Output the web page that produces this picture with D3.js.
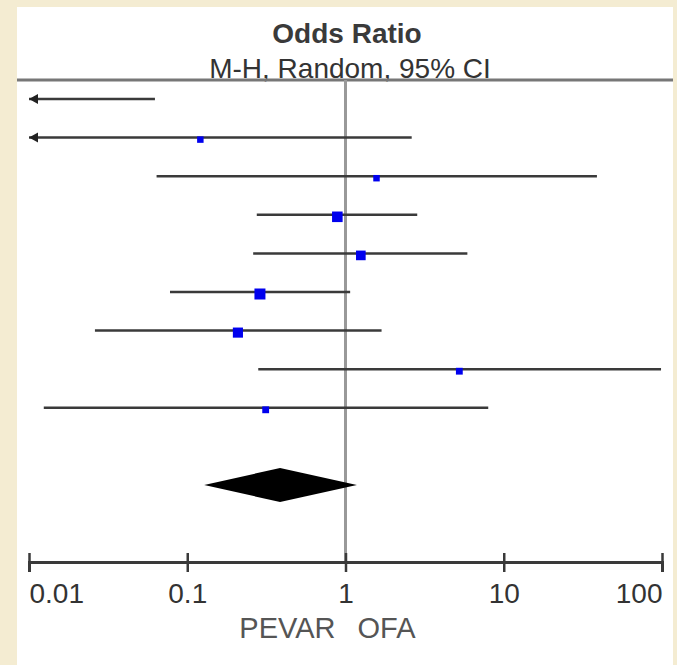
<!DOCTYPE html>
<html>
<head>
<meta charset="utf-8">
<script src="https://cdn.jsdelivr.net/npm/d3@7"></script>
<style>
  html, body { margin: 0; padding: 0; background: #f4ecd2; }
  svg { display: block; }
</style>
</head>
<body>
<svg id="chart" width="677" height="665"></svg>
<script>
// odds ratios (log scale)
const studyIndex = [0, 1, 2, 3, 4, 5, 6, 7, 8];
const orPoint = [0.004, 0.121, 1.57, 0.888, 1.25, 0.288, 0.209, 5.24, 0.313];
const orLower = [0.0005, 0.002, 0.064, 0.275, 0.261, 0.0778, 0.0261, 0.281, 0.0124];
const orUpper = [0.0625, 2.62, 38.8, 2.84, 5.89, 1.07, 1.69, 98.6, 7.98];
const weights = [3, 4.5, 4.5, 12, 10, 13, 11, 5, 5];

const pooledIndex = 10;
const pooledPoint = 0.386;
const pooledLower = 0.128;
const pooledUpper = 1.18;

const tickValues = [0.01, 0.1, 1, 10, 100];
const tickLabels = ["0.01", "0.1", "1", "10", "100"];
const titleText = "Odds Ratio";
const subtitleText = "M-H, Random, 95% CI";
const leftLabel = "PEVAR";
const rightLabel = "OFA";

const svg = d3.select("#chart");
const font = "'Liberation Sans', Arial, Helvetica, sans-serif";

// white panel
svg.append("rect")
  .attr("x", 17).attr("y", 7)
  .attr("width", 656).attr("height", 658)
  .attr("fill", "#fff");

const x = d3.scaleLog().domain([0.01, 100]).range([29, 662]);
const y = d3.scaleLinear().domain([0, 10]).range([99, 485]);
const size = d3.scaleSqrt().domain([0, d3.max(weights)]).range([0, 11]);
const axisY = 562;

// header
svg.append("text")
  .attr("x", 347).attr("y", 43)
  .attr("text-anchor", "middle")
  .attr("font-family", font).attr("font-size", 28).attr("font-weight", "bold")
  .attr("fill", "#3a3a3a")
  .text(titleText);
svg.append("text")
  .attr("x", 350).attr("y", 78)
  .attr("text-anchor", "middle")
  .attr("font-family", font).attr("font-size", 28)
  .attr("fill", "#333")
  .text(subtitleText);
svg.append("line")
  .attr("x1", 17).attr("x2", 673)
  .attr("y1", 80).attr("y2", 80)
  .attr("stroke", "#777").attr("stroke-width", 3);

// line of no effect
svg.append("line")
  .attr("x1", x(1)).attr("x2", x(1))
  .attr("y1", 80).attr("y2", axisY)
  .attr("stroke", "#999").attr("stroke-width", 3);

// confidence intervals
const [dMin, dMax] = x.domain();
const rows = svg.append("g");
studyIndex.forEach(i => {
  const lo = Math.max(orLower[i], dMin);
  const hi = Math.min(orUpper[i], dMax);
  const yy = y(i);
  rows.append("line")
    .attr("x1", x(lo)).attr("x2", x(hi))
    .attr("y1", yy).attr("y2", yy)
    .attr("stroke", "#3a3a3a").attr("stroke-width", 2.5);
  if (orLower[i] < dMin) {
    const ax = x(dMin);
    rows.append("path")
      .attr("d", `M${ax},${yy} L${ax + 9},${yy - 5} L${ax + 9},${yy + 5} Z`)
      .attr("fill", "#222");
  }
  if (orUpper[i] > dMax) {
    const ax = x(dMax);
    rows.append("path")
      .attr("d", `M${ax},${yy} L${ax - 9},${yy - 5} L${ax - 9},${yy + 5} Z`)
      .attr("fill", "#222");
  }
  if (orPoint[i] >= dMin && orPoint[i] <= dMax) {
    const s = size(weights[i]);
    rows.append("rect")
      .attr("x", x(orPoint[i]) - s / 2)
      .attr("y", yy + 2 - s / 2)
      .attr("width", s).attr("height", s)
      .attr("fill", "#0000ee");
  }
});

// pooled diamond
const py = y(pooledIndex);
svg.append("path")
  .attr("d", `M${x(pooledLower)},${py} L${x(pooledPoint)},${py - 17} L${x(pooledUpper)},${py} L${x(pooledPoint)},${py + 17} Z`)
  .attr("fill", "#000");

// axis
const axis = d3.axisBottom(x)
  .tickValues(tickValues)
  .tickFormat((d, i) => tickLabels[i])
  .tickSizeOuter(0)
  .tickSize(10);
const gAxis = svg.append("g")
  .attr("transform", `translate(0,${axisY})`)
  .call(axis);
gAxis.select(".domain").attr("stroke", "#3a3a3a").attr("stroke-width", 3);
gAxis.selectAll(".tick line")
  .attr("y1", -9).attr("y2", 10)
  .attr("stroke", "#3a3a3a").attr("stroke-width", 2.5);
gAxis.selectAll(".tick text")
  .attr("y", 41).attr("dy", null)
  .attr("font-family", font).attr("font-size", 28)
  .attr("fill", "#333")
  .attr("text-anchor", (d, i) => i === 0 ? "start" : i === tickValues.length - 1 ? "end" : "middle");

// favours labels
svg.append("text")
  .attr("x", x(1) - 10).attr("y", 638)
  .attr("text-anchor", "end")
  .attr("font-family", font).attr("font-size", 29)
  .attr("fill", "#555")
  .text(leftLabel);
svg.append("text")
  .attr("x", x(1) + 12).attr("y", 638)
  .attr("text-anchor", "start")
  .attr("font-family", font).attr("font-size", 29)
  .attr("fill", "#555")
  .text(rightLabel);
</script>
</body>
</html>
